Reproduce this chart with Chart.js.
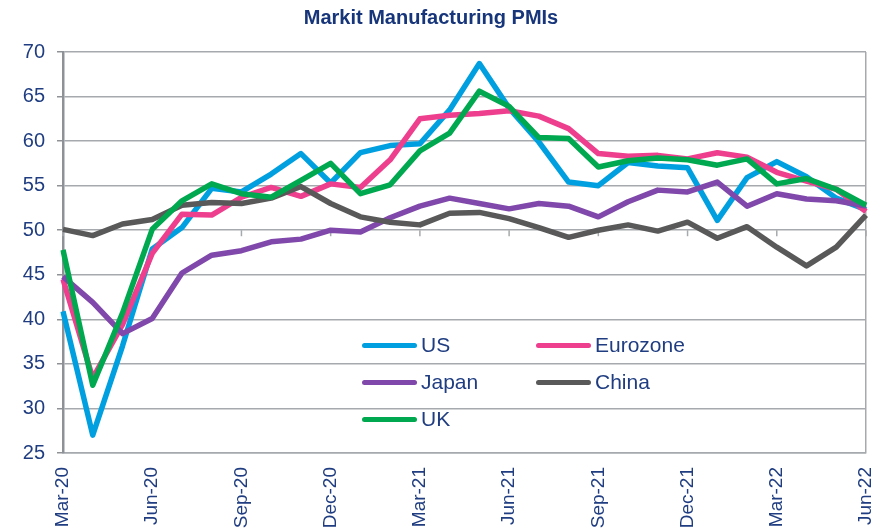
<!DOCTYPE html>
<html>
<head>
<meta charset="utf-8">
<script src="https://cdn.jsdelivr.net/npm/chart.js@4.4.1/dist/chart.umd.min.js"></script>
<style>
    html, body { margin: 0; padding: 0; background: #fff; }
    #wrap { position: relative; width: 882px; height: 532px; font-family: "Liberation Sans", Arial, sans-serif; }
    #title { position: absolute; left: 0; width: 862px; top: 6px; text-align: center; font-weight: bold; font-size: 20px; color: #16357a; }
    .leg { position: absolute; height: 24px; display: flex; align-items: center; font-size: 21px; color: #1f3d80; }
    .leg span.sw { display: inline-block; width: 55px; height: 5px; border-radius: 3px; margin-right: 4px; }
</style>
</head>
<body>
<div id="wrap">
    <canvas id="pmiChart" width="882" height="532"></canvas>
    <div id="title">Markit Manufacturing PMIs</div>
</div>
<script>
// 월별 라벨 (Mar-20 ~ Jun-22)
const months = ['Mar-20', 'Apr-20', 'May-20', 'Jun-20', 'Jul-20', 'Aug-20', 'Sep-20', 'Oct-20', 'Nov-20', 'Dec-20',
    'Jan-21', 'Feb-21', 'Mar-21', 'Apr-21', 'May-21', 'Jun-21', 'Jul-21', 'Aug-21', 'Sep-21', 'Oct-21', 'Nov-21', 'Dec-21',
    'Jan-22', 'Feb-22', 'Mar-22', 'Apr-22', 'May-22', 'Jun-22'];

const usPmi = [40.9, 27.0, 37.0, 47.9, 50.3, 54.7, 54.3, 56.3, 58.6, 55.3, 58.7, 59.5, 59.7, 63.5, 68.7, 63.7, 59.9, 55.4, 55.0, 57.6, 57.2, 57.0, 51.1, 55.9, 57.7, 56.0, 53.6, 52.3];
const eurozonePmi = [44.5, 33.4, 39.4, 47.4, 51.8, 51.7, 53.7, 54.8, 53.8, 55.2, 54.8, 57.9, 62.5, 62.9, 63.1, 63.4, 62.8, 61.4, 58.6, 58.3, 58.4, 58.0, 58.7, 58.2, 56.5, 55.5, 54.6, 52.1];
const japanPmi = [44.8, 41.9, 38.4, 40.1, 45.2, 47.2, 47.7, 48.7, 49.0, 50.0, 49.8, 51.4, 52.7, 53.6, 53.0, 52.4, 53.0, 52.7, 51.5, 53.2, 54.5, 54.3, 55.4, 52.7, 54.1, 53.5, 53.3, 52.7];
const chinaPmi = [50.1, 49.4, 50.7, 51.2, 52.8, 53.1, 53.0, 53.6, 54.9, 53.0, 51.5, 50.9, 50.6, 51.9, 52.0, 51.3, 50.3, 49.2, 50.0, 50.6, 49.9, 50.9, 49.1, 50.4, 48.1, 46.0, 48.1, 51.7];
const ukPmi = [47.8, 32.6, 40.7, 50.1, 53.3, 55.2, 54.1, 53.7, 55.6, 57.5, 54.1, 55.1, 58.9, 60.9, 65.6, 63.9, 60.4, 60.3, 57.1, 57.8, 58.1, 57.9, 57.3, 58.0, 55.2, 55.8, 54.6, 52.8];

const yTicks = [25, 30, 35, 40, 45, 50, 55, 60, 65, 70];

const series = [
    { name: 'US', data: usPmi, color: '#00a0e0', order: 5, legX: 362, legY: 333 },
    { name: 'Eurozone', data: eurozonePmi, color: '#ee3f8e', order: 4, legX: 536, legY: 333 },
    { name: 'Japan', data: japanPmi, color: '#7f48aa', order: 3, legX: 362, legY: 370 },
    { name: 'China', data: chinaPmi, color: '#595959', order: 2, legX: 536, legY: 370 },
    { name: 'UK', data: ukPmi, color: '#00a94f', order: 1, legX: 362, legY: 407 }
];

const gridGray = '#a6a9ad';
const axisGray = '#8e9297';
const labelBlue = '#1f3d80';

// x축 눈금 (50 선 위에 3개월 간격)
const midTicks = {
    id: 'midTicks',
    beforeDatasetsDraw(chart) {
        const { ctx, scales } = chart;
        const y50 = scales.y.getPixelForValue(50);
        ctx.save();
        ctx.strokeStyle = gridGray;
        ctx.lineWidth = 1.5;
        months.forEach((m, i) => {
            if (i % 3 !== 0) return;
            const x = scales.x.getPixelForValue(i);
            ctx.beginPath();
            ctx.moveTo(x, y50);
            ctx.lineTo(x, y50 + 6);
            ctx.stroke();
        });
        ctx.restore();
    }
};

new Chart(document.getElementById('pmiChart'), {
    type: 'line',
    data: {
        labels: months,
        datasets: series.map(s => ({
            label: s.name,
            data: s.data,
            borderColor: s.color,
            backgroundColor: s.color,
            borderWidth: 5.5,
            pointRadius: 0,
            tension: 0,
            borderJoinStyle: 'round',
            order: s.order
        }))
    },
    options: {
        responsive: false,
        devicePixelRatio: 1,
        animation: false,
        layout: { padding: { top: 52, right: 16, left: 0, bottom: 0 } },
        plugins: { legend: { display: false }, tooltip: { enabled: false } },
        scales: {
            x: {
                offset: false,
                afterFit: scale => {
                    scale.height = 79;
                    scale.paddingLeft = 0;
                    scale.paddingRight = 0;
                },
                grid: {
                    drawTicks: false,
                    lineWidth: 1.5,
                    color: c => c.index === months.length - 1 ? gridGray : 'rgba(0,0,0,0)'
                },
                border: { display: true, color: gridGray, width: 1.5 },
                ticks: {
                    autoSkip: false,
                    maxRotation: 90,
                    minRotation: 90,
                    padding: 14,
                    color: labelBlue,
                    font: { family: 'Liberation Sans', size: 19 },
                    callback: (v, i) => i % 3 === 0 ? months[i] : ''
                }
            },
            y: {
                min: 25,
                max: 70,
                afterFit: scale => { scale.width = 63; },
                afterBuildTicks: scale => { scale.ticks = yTicks.map(v => ({ value: v })); },
                grid: { color: gridGray, lineWidth: 1.5, tickLength: 6, tickColor: axisGray },
                border: { color: axisGray, width: 2.5 },
                ticks: {
                    padding: 12,
                    color: labelBlue,
                    font: { family: 'Liberation Sans', size: 20 }
                }
            }
        }
    },
    plugins: [midTicks]
});

// 범례 (차트 안쪽)
const wrap = document.getElementById('wrap');
series.forEach(s => {
    const d = document.createElement('div');
    d.className = 'leg';
    d.style.left = s.legX + 'px';
    d.style.top = s.legY + 'px';
    d.innerHTML = '<span class="sw" style="background:' + s.color + '"></span>' + s.name;
    wrap.appendChild(d);
});
</script>
</body>
</html>
